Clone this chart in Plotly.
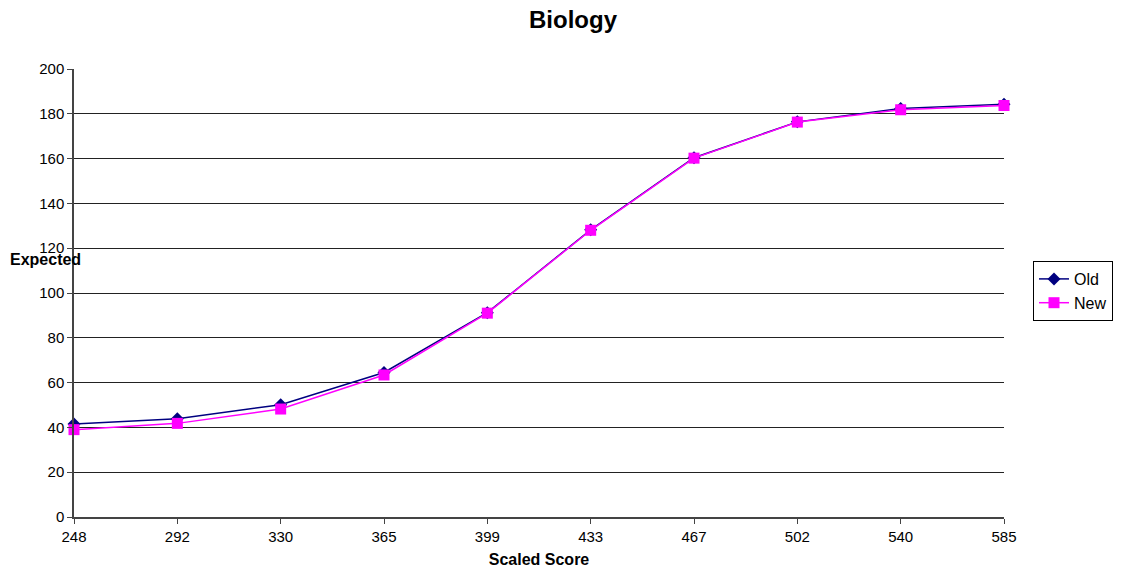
import plotly.graph_objects as go

categories = ["248", "292", "330", "365", "399", "433", "467", "502", "540", "585"]
old_vals = [41.5, 43.9, 50.1, 64.5, 91.2, 128.2, 160.4, 176.4, 182.4, 184.3]
new_vals = [39.0, 41.8, 48.2, 63.4, 91.0, 128.0, 160.2, 176.3, 181.8, 183.7]

fig = go.Figure()
fig.add_trace(go.Scatter(x=categories, y=old_vals, name="Old", mode="lines+markers",
                         line=dict(color="#000080", width=1.5),
                         marker=dict(symbol="diamond", size=10, color="#000080"),
                         cliponaxis=False))
fig.add_trace(go.Scatter(x=categories, y=new_vals, name="New", mode="lines+markers",
                         line=dict(color="#FF00FF", width=1.5),
                         marker=dict(symbol="square", size=11, color="#FF00FF"),
                         cliponaxis=False))

font_family = "Liberation Sans, Arial, sans-serif"
pw = 1122 - 74 - 118
ph = 581 - 69 - 64
fig.update_layout(
    width=1122, height=581,
    paper_bgcolor="white", plot_bgcolor="white",
    margin=dict(l=74, r=118, t=69, b=64, autoexpand=False),
    font=dict(family=font_family, size=15, color="black"),
    title=dict(text="<b>Biology</b>", x=573 / 1122, xanchor="center", y=1 - 20 / 581, yanchor="middle",
               font=dict(size=24, family=font_family)),
    showlegend=True,
    legend=dict(x=(1033 - 74) / pw, xanchor="left", y=(517 - 291) / ph, yanchor="middle",
                bordercolor="black", borderwidth=1, bgcolor="white",
                font=dict(size=16), tracegroupgap=0),
    xaxis=dict(type="category", range=[0, 9], showgrid=False,
               showline=True, linecolor="#444444", linewidth=1.5,
               ticks="outside", ticklen=5, tickcolor="#444444",
               tickfont=dict(size=15), zeroline=False,
               title=dict(text="<b>Scaled Score</b>", font=dict(size=16), standoff=10)),
    yaxis=dict(range=[0, 200], dtick=20, showgrid=True, gridcolor="#222222", gridwidth=1,
               showline=True, linecolor="#444444", linewidth=1.5,
               ticks="outside", ticklen=5, tickcolor="#444444",
               tickfont=dict(size=15), zeroline=False),
)
fig.add_annotation(text="<b>Expected</b>", xref="paper", yref="paper",
                   x=(45 - 74) / pw, y=(517 - 259) / ph,
                   showarrow=False, font=dict(size=16, family=font_family),
                   xanchor="center", yanchor="middle")

fig.write_html("out.html", config={"displayModeBar": False},
               post_script="document.body.style.margin='0';")
